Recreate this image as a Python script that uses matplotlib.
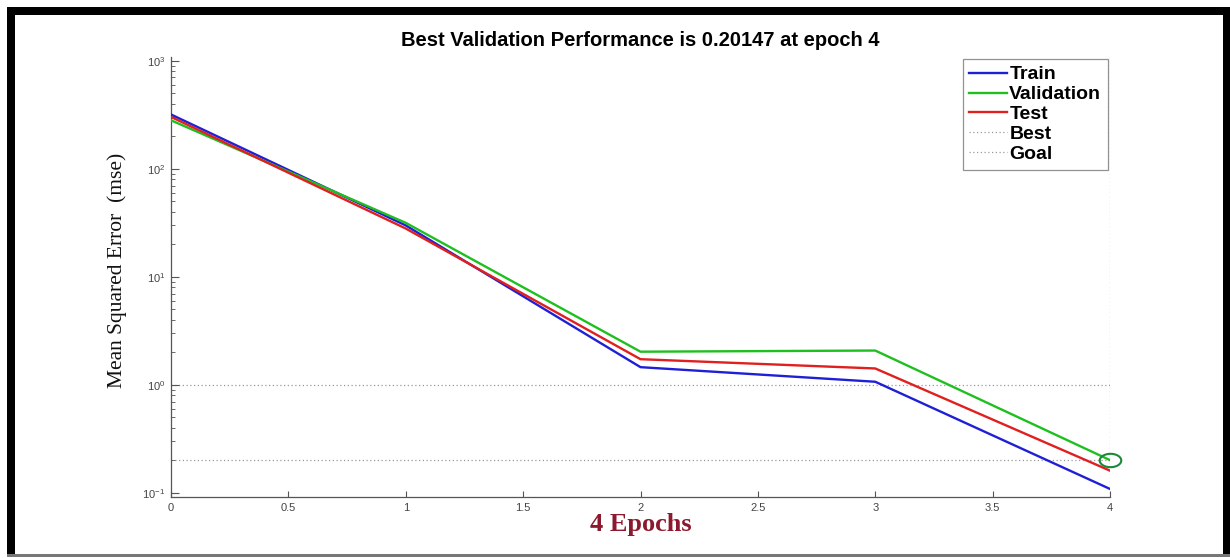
import numpy as np
import matplotlib
matplotlib.use("Agg")
import matplotlib.pyplot as plt
from matplotlib.path import Path
from matplotlib.patches import Rectangle
from matplotlib.ticker import FixedLocator, LogLocator, NullFormatter

# ---- data ----
epochs = [0, 1, 2, 3, 4]
train = [318, 29.9, 1.46, 1.07, 0.109]
validation = [281, 31.6, 2.03, 2.08, 0.20147]
test = [302, 28.0, 1.73, 1.42, 0.161]
best_epoch = 4
best_perf = 0.20147
goal = 1.0
xticks = [0, 0.5, 1, 1.5, 2, 2.5, 3, 3.5, 4]
xticklabels = ["0", "0.5", "1", "1.5", "2", "2.5", "3", "3.5", "4"]
title = "Best Validation Performance is 0.20147 at epoch 4"
legend_labels = ["Train", "Validation", "Test", "Best", "Goal"]

W, H = 1230, 558
fig = plt.figure(figsize=(W / 100, H / 100), dpi=100)
fig.patch.set_facecolor("white")

def px_rect(x0, y0, x1, y1, color):
    fig.patches.append(Rectangle((x0 / W, 1 - y1 / H), (x1 - x0) / W, (y1 - y0) / H,
                                 transform=fig.transFigure, facecolor=color,
                                 edgecolor="none", zorder=0))

# frame
px_rect(7, 7, 1230, 15, "black")
px_rect(7, 7, 15, 556, "black")
px_rect(1223, 7, 1230, 556, "black")
px_rect(7, 554, 1230, 557, "#777777")

ax_l, ax_r, ax_t, ax_b = 171, 1110, 57, 497
ax = fig.add_axes([ax_l / W, 1 - ax_b / H, (ax_r - ax_l) / W, (ax_b - ax_t) / H])
ax.set_facecolor("white")

lw = 1.7
ax.plot(epochs, train, color="#1f1fd6", lw=lw, label=legend_labels[0], zorder=3)
ax.plot(epochs, validation, color="#1fbf1f", lw=lw, label=legend_labels[1], zorder=3)
ax.plot(epochs, test, color="#e01f1f", lw=lw, label=legend_labels[2], zorder=3)

dot_kw = dict(color="#9a9a9a", lw=0.9, linestyle=(0, (1, 2)))
ax.axvline(best_epoch, **dot_kw, label=legend_labels[3], zorder=1)
ax.axhline(best_perf, **dot_kw, zorder=1)
ax.axhline(goal, **dot_kw, label=legend_labels[4], zorder=1)

# elliptical best marker
t = np.linspace(0, 2 * np.pi, 60)
ell = Path(np.column_stack([np.cos(t), 0.62 * np.sin(t)]), closed=True)
ax.plot([best_epoch], [best_perf], marker=ell, markersize=15.5, markerfacecolor="none",
        markeredgecolor="#1a8a3a", markeredgewidth=1.5, linestyle="none", zorder=4,
        clip_on=False)

ax.set_yscale("log")
ax.set_xlim(0, 4)
ax.set_ylim(10 ** (-1 - 4 / 108), 10 ** (3 + 3.7 / 108))

ax.xaxis.set_major_locator(FixedLocator(xticks))
ax.set_xticklabels(xticklabels)
ax.yaxis.set_major_locator(LogLocator(base=10, numticks=10))
ax.yaxis.set_minor_locator(LogLocator(base=10, subs=np.arange(2, 10), numticks=20))
ax.yaxis.set_minor_formatter(NullFormatter())

for s in ["top", "right"]:
    ax.spines[s].set_visible(False)
for s in ["left", "bottom"]:
    ax.spines[s].set_color("#555555")
    ax.spines[s].set_linewidth(0.9)

ax.tick_params(axis="both", which="major", direction="in", length=6, width=0.8,
               colors="#555555", labelsize=8, labelcolor="#444444", pad=4)
ax.tick_params(axis="y", which="minor", direction="in", length=3, width=0.6, colors="#555555")
ax.tick_params(axis="x", which="major", length=4)
for lab in ax.get_xticklabels() + ax.get_yticklabels():
    lab.set_fontfamily("Liberation Sans")

ax.set_title(title, fontsize=14.5, fontweight="bold", family="Liberation Sans",
             color="black", pad=8)

ax.set_ylabel("Mean Squared Error  (mse)", fontsize=15.5, family="Liberation Serif",
              color="#111111")
ax.yaxis.set_label_coords((117 - ax_l) / (ax_r - ax_l), (ax_b - 270) / (ax_b - ax_t))
ax.set_xlabel("4 Epochs", fontsize=19, family="Liberation Serif", fontweight="bold",
              color="#8b1a2e")
ax.xaxis.set_label_coords(0.5, (ax_b - 524) / (ax_b - ax_t))
ax.xaxis.label.set_va("center")
ax.yaxis.label.set_va("center")

leg = ax.legend(loc="upper right", bbox_to_anchor=(1.0, 1.0), borderaxespad=0.1,
                prop={"family": "Liberation Sans", "weight": "bold", "size": 14},
                frameon=True, fancybox=False, handlelength=1.95, handletextpad=0.1,
                labelspacing=0.12, borderpad=0.35)
leg.get_frame().set_edgecolor("#777777")
leg.get_frame().set_linewidth(0.9)

fig.savefig("out.png", dpi=100)
